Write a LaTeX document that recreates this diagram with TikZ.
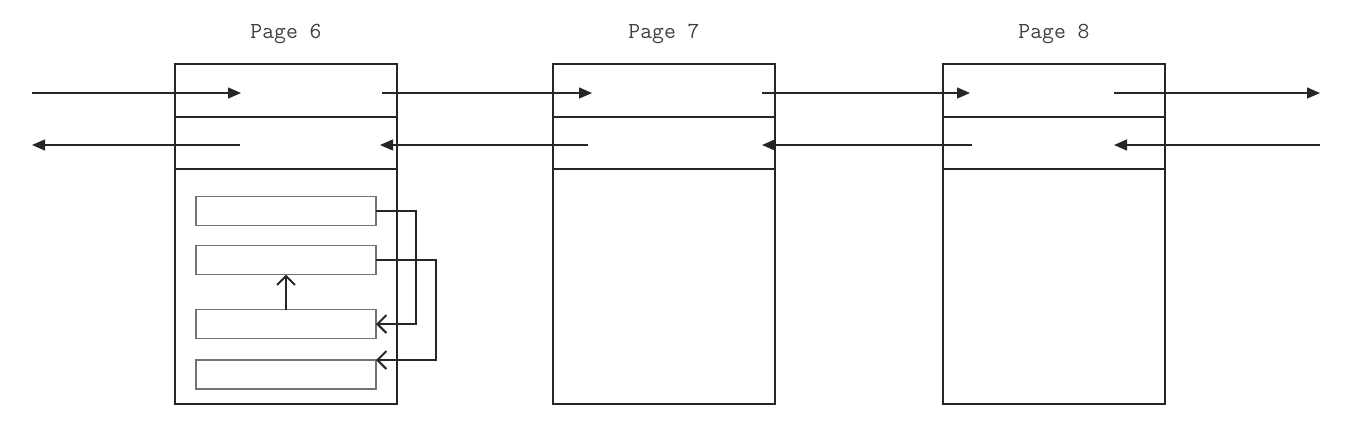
\documentclass[tikz,border=0pt]{standalone}
\usetikzlibrary{arrows.meta}
\begin{document}
\begin{tikzpicture}[x=1pt,y=-1pt,
  cell/.style={draw=black!85,line width=1.4pt,minimum width=222pt,inner sep=0pt,outer sep=0pt},
  rec/.style={draw=black!55,line width=1.3pt,minimum width=180pt,minimum height=29pt,inner sep=0pt,outer sep=0pt},
  lbl/.style={font=\ttfamily\fontsize{23}{24}\selectfont,text=black!75},
  link/.style={line width=1.4pt,draw=black!85,-{Triangle[length=13pt,width=11pt]}},
  inlink/.style={line width=2pt,draw=black!85,-{Straight Barb[length=9pt,width=18pt]}}]
\useasboundingbox (0,0) rectangle (1353,432);
% pages
\foreach \n/\x in {6/286,7/664,8/1054}{
  \node[cell,minimum height=53pt] (t\n) at (\x,90.5) {};
  \node[cell,minimum height=52pt] (m\n) at (\x,143) {};
  \node[cell,minimum height=235pt] (b\n) at (\x,286.5) {};
  \node[lbl] (l\n) at (\x,34) {Page \n};
}
% inner records of page 6
\node[rec] (r1) at (286,211) {};
\node[rec] (r2) at (286,260) {};
\node[rec] (r3) at (286,324) {};
\node[rec] (r4) at (286,374.5) {};
% forward links
\coordinate (fa0) at (32,93);   \coordinate (fb0) at (241,93);
\coordinate (fa1) at (382,93);  \coordinate (fb1) at (592,93);
\coordinate (fa2) at (762,93);  \coordinate (fb2) at (970,93);
\coordinate (fa3) at (1114,93); \coordinate (fb3) at (1320,93);
\foreach \i in {0,1,2,3}{\draw[link] (fa\i) -- (fb\i);}
% backward links
\coordinate (ba0) at (240,145);  \coordinate (bb0) at (32,145);
\coordinate (ba1) at (588,145);  \coordinate (bb1) at (380,145);
\coordinate (ba2) at (972,145);  \coordinate (bb2) at (762,145);
\coordinate (ba3) at (1320,145); \coordinate (bb3) at (1114,145);
\foreach \i in {0,1,2,3}{\draw[link] (ba\i) -- (bb\i);}
% inner links
\coordinate (c1) at (416,211);
\coordinate (c2) at (436,260);
\draw[inlink] (r1.east) -- (c1) |- (r3.east);
\draw[inlink] (r2.east) -- (c2) |- (r4.north east);
\draw[inlink] (r3.north) -- (r2.south);
\end{tikzpicture}
\end{document}
